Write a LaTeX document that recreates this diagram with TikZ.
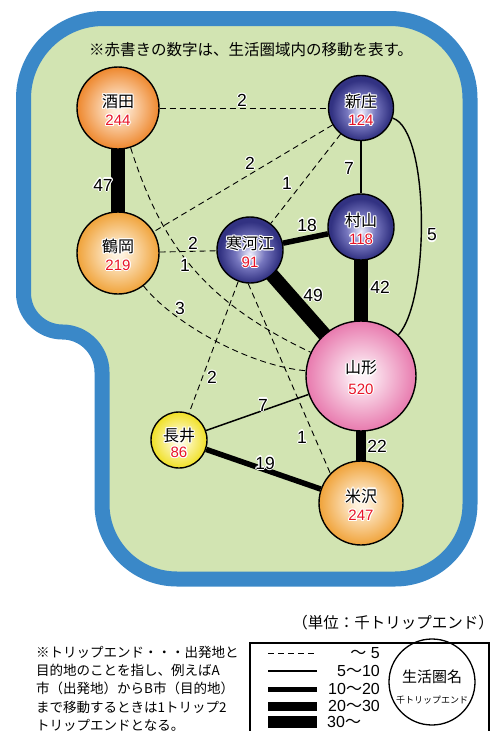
\documentclass[tikz,border=0pt]{standalone}
\usepackage{fontspec}
\setmainfont{Liberation Sans}
\newfontfamily\jp{Noto Sans CJK JP}
\definecolor{frameblue}{RGB}{58,136,200}
\definecolor{bggreen}{RGB}{210,228,178}
\definecolor{numred}{RGB}{232,20,40}
\definecolor{orIn}{RGB}{255,238,220}
\definecolor{orOut}{RGB}{238,136,46}
\definecolor{otIn}{RGB}{255,242,222}
\definecolor{otOut}{RGB}{240,163,58}
\definecolor{blIn}{RGB}{238,238,252}
\definecolor{blMid}{RGB}{118,118,190}
\definecolor{blOut}{RGB}{50,50,130}
\definecolor{pkIn}{RGB}{253,240,246}
\definecolor{pkOut}{RGB}{232,122,174}
\definecolor{ylIn}{RGB}{255,252,228}
\definecolor{ylOut}{RGB}{240,224,36}
\pgfdeclareradialshading{orangeS}{\pgfpointorigin}{color(0bp)=(orIn); color(3bp)=(orIn); color(25bp)=(orOut); color(50bp)=(orOut)}
\pgfdeclareradialshading{otherS}{\pgfpointorigin}{color(0bp)=(otIn); color(3bp)=(otIn); color(25bp)=(otOut); color(50bp)=(otOut)}
\pgfdeclareradialshading{blueS}{\pgfpoint{0bp}{-3bp}}{color(0bp)=(blIn); color(11bp)=(blMid); color(23bp)=(blOut); color(50bp)=(blOut)}
\pgfdeclareradialshading{pinkS}{\pgfpointorigin}{color(0bp)=(pkIn); color(3bp)=(pkIn); color(25bp)=(pkOut); color(50bp)=(pkOut)}
\pgfdeclareradialshading{yellowS}{\pgfpointorigin}{color(0bp)=(ylIn); color(3bp)=(ylIn); color(25bp)=(ylOut); color(50bp)=(ylOut)}
\newcommand\halotxt[2][black]{{\setbox0\hbox{#2}%
\rlap{\color{white}\kern1.1pt\copy0}%
\rlap{\color{white}\kern-1.1pt\copy0}%
\rlap{\color{white}\raise1.1pt\copy0}%
\rlap{\color{white}\lower1.1pt\copy0}%
\rlap{\color{white}\kern.8pt\raise.8pt\copy0}%
\rlap{\color{white}\kern-.8pt\raise.8pt\copy0}%
\rlap{\color{white}\kern.8pt\lower.8pt\copy0}%
\rlap{\color{white}\kern-.8pt\lower.8pt\copy0}%
{\color{#1}\box0}}}
\pgfdeclarelayer{framelayer}
\pgfdeclarelayer{edgelayer}
\pgfsetlayers{framelayer,edgelayer,main}
\tikzset{
 city/.style={circle, draw=black, line width=1.4pt, inner sep=0pt},
 cname/.style={font={\jp\fontsize{16}{16}\selectfont}, inner sep=0pt},
 cnum/.style={font={\fontsize{15}{15}\selectfont}, inner sep=0pt},
 elbl/.style={font={\fontsize{17.5}{17.5}\selectfont}, inner sep=0pt},
 dashedge/.style={line width=0.9pt, dash pattern=on 6pt off 4pt},
 thinedge/.style={line width=1.5pt},
 wten/.style={line width=5.5pt},
 wtwenty/.style={line width=10pt, shorten <=-2pt, shorten >=-2pt},
 wthirty/.style={line width=14pt, shorten <=-3pt, shorten >=-3pt},
 jptext/.style={font={\jp\fontsize{13.5}{13.5}\selectfont}, inner sep=0pt, anchor=west},
 lgnum/.style={font={\fontsize{16}{16}\selectfont}, inner sep=0pt},
}
\begin{document}
\begin{tikzpicture}[x=1pt,y=-1pt]
\useasboundingbox (0,0) rectangle (502,731);
\begin{pgfonlayer}{framelayer}
\draw[line width=15pt, draw=frameblue, fill=bggreen]
 (23.5,293) -- (23.5,98.5) .. controls (23.5,54.3) and (59.3,18.5) .. (103.5,18.5)
 -- (390,18.5) .. controls (434.2,18.5) and (470,54.3) .. (470,98.5)
 -- (470,504) .. controls (470,545.4) and (436.4,579) .. (395,579)
 -- (177,579) .. controls (135.6,579) and (102,545.4) .. (102,504)
 -- (102,372) .. controls (102,350.2) and (84.3,332) .. (62.5,332)
 .. controls (41,332) and (23.5,314.5) .. (23.5,293) -- cycle;
\end{pgfonlayer}
% cities
\node[city, minimum size=82pt, shading=orangeS] (sakata) at (118,108) {};
\node[city, minimum size=65pt, shading=blueS] (shinjo) at (361,108) {};
\node[city, minimum size=66pt, shading=blueS] (murayama) at (361,227) {};
\node[city, minimum size=66pt, shading=blueS] (sagae) at (250,250) {};
\node[city, minimum size=82pt, shading=otherS] (tsuruoka) at (118,253) {};
\node[city, minimum size=110pt, shading=pinkS] (yamagata) at (361,376) {};
\node[city, minimum size=56pt, shading=yellowS] (nagai) at (179,440) {};
\node[city, minimum size=84pt, shading=otherS] (yonezawa) at (361,503) {};
% edges
\begin{pgfonlayer}{edgelayer}
\draw[wthirty] (sakata) -- (tsuruoka);
\draw[dashedge] (sakata) -- (shinjo);
\draw[dashedge] (sakata) .. controls (160,240) and (200,300) .. (yamagata);
\draw[dashedge] (shinjo) -- (tsuruoka);
\draw[dashedge] (shinjo) -- (sagae);
\draw[thinedge] (shinjo) -- (murayama);
\draw[line width=1.4pt] (shinjo) .. controls (430,130) and (430,300) .. (yamagata);
\draw[wten] (sagae) -- (murayama);
\draw[wthirty] (sagae) -- (yamagata);
\draw[wthirty] (murayama) -- (yamagata);
\draw[dashedge] (tsuruoka) -- (sagae);
\draw[dashedge] (tsuruoka) .. controls (170,320) and (245,365) .. (yamagata);
\draw[dashedge] (sagae) -- (nagai);
\draw[dashedge] (sagae.267) -- (yonezawa.136);
\draw[thinedge] (nagai) -- (yamagata);
\draw[wten] (nagai) -- (yonezawa);
\draw[wtwenty] (yamagata) -- (yonezawa);
\end{pgfonlayer}
% city labels
\node[cname] (sakata-n) at ([yshift=6.5pt]sakata.center) {\halotxt{酒田}};
\node[cnum] (sakata-v) at ([yshift=-12pt]sakata.center) {\halotxt[numred]{244}};
\node[cname] (shinjo-n) at ([yshift=6.5pt]shinjo.center) {\halotxt{新庄}};
\node[cnum] (shinjo-v) at ([yshift=-12pt]shinjo.center) {\halotxt[numred]{124}};
\node[cname] (murayama-n) at ([yshift=6.5pt]murayama.center) {\halotxt{村山}};
\node[cnum] (murayama-v) at ([yshift=-12pt]murayama.center) {\halotxt[numred]{118}};
\node[cname] (sagae-n) at ([yshift=6.5pt]sagae.center) {\halotxt{寒河江}};
\node[cnum] (sagae-v) at ([yshift=-12pt]sagae.center) {\halotxt[numred]{91}};
\node[cname] (tsuruoka-n) at ([yshift=6.5pt]tsuruoka.center) {\halotxt{鶴岡}};
\node[cnum] (tsuruoka-v) at ([yshift=-12pt]tsuruoka.center) {\halotxt[numred]{219}};
\node[cname] (yamagata-n) at ([yshift=8pt]yamagata.center) {\halotxt{山形}};
\node[cnum] (yamagata-v) at ([yshift=-13pt]yamagata.center) {\halotxt[numred]{520}};
\node[cname] (nagai-n) at ([yshift=4.5pt]nagai.center) {\halotxt{長井}};
\node[cnum] (nagai-v) at ([yshift=-12.5pt]nagai.center) {\halotxt[numred]{86}};
\node[cname] (yonezawa-n) at ([yshift=7pt]yonezawa.center) {\halotxt{米沢}};
\node[cnum] (yonezawa-v) at ([yshift=-12pt]yonezawa.center) {\halotxt[numred]{247}};
% edge labels
\node[elbl] (e1) at (242,100) {\halotxt{2}};
\node[elbl] (e2) at (103,185) {\halotxt{47}};
\node[elbl] (e3) at (250,163) {\halotxt{2}};
\node[elbl] (e4) at (287,183) {\halotxt{1}};
\node[elbl] (e5) at (349,168) {\halotxt{7}};
\node[elbl] (e6) at (307,225) {\halotxt{18}};
\node[elbl] (e7) at (432,235) {\halotxt{5}};
\node[elbl] (e8) at (193,243) {\halotxt{2}};
\node[elbl] (e9) at (185,265) {\halotxt{1}};
\node[elbl] (e10) at (313,295) {\halotxt{49}};
\node[elbl] (e11) at (380,287) {\halotxt{42}};
\node[elbl] (e12) at (180,308) {\halotxt{3}};
\node[elbl] (e13) at (212,377) {\halotxt{2}};
\node[elbl] (e14) at (263,405) {\halotxt{7}};
\node[elbl] (e15) at (302,437) {\halotxt{1}};
\node[elbl] (e16) at (377,446) {\halotxt{22}};
\node[elbl] (e17) at (265,463) {\halotxt{19}};
% top note
\node[font={\jp\fontsize{15.5}{15.5}\selectfont}, inner sep=0pt] (note) at (251,50) {※赤書きの数字は、生活圏域内の移動を表す。};
% legend
\node[font={\jp\fontsize{15.5}{15.5}\selectfont}, inner sep=0pt] (unit) at (393,623) {（単位：千トリップエンド）};
\draw[line width=2pt] (250,740) -- (250,643) -- (489,643) -- (489,740);
\coordinate (la1) at (268,653); \coordinate (lb1) at (317,653);
\coordinate (la2) at (268,671); \coordinate (lb2) at (317,671);
\coordinate (la3) at (268,689); \coordinate (lb3) at (317,689);
\coordinate (la4) at (268,706); \coordinate (lb4) at (317,706);
\coordinate (la5) at (268,722); \coordinate (lb5) at (317,722);
\draw[line width=1pt, dash pattern=on 5.5pt off 4.5pt] (la1) -- (lb1);
\draw[line width=1.5pt] (la2) -- (lb2);
\draw[line width=5pt] (la3) -- (lb3);
\draw[line width=9pt] (la4) -- (lb4);
\draw[line width=11.5pt] (la5) -- (lb5);
\node[lgnum, anchor=east] (lt1) at (380,653) {{\jp ～}\ 5};
\node[lgnum, anchor=east] (lt2) at (380,671) {5{\jp ～}10};
\node[lgnum, anchor=east] (lt3) at (380,689) {10{\jp ～}20};
\node[lgnum, anchor=east] (lt4) at (380,706) {20{\jp ～}30};
\node[lgnum, anchor=west] (lt5) at (327,722) {30{\jp ～}};
\node[circle, draw=black, line width=1.3pt, minimum size=86pt, inner sep=0pt] (lgc) at (432,682) {};
\node[font={\jp\fontsize{15}{15}\selectfont}, inner sep=0pt] (lgt1) at (432,677) {生活圏名};
\node[font={\jp\fontsize{9}{9}\selectfont}, inner sep=0pt] (lgt2) at (432,700) {千トリップエンド};
% explanation
\node[jptext] (p1) at (36,652) {※トリップエンド・・・出発地と};
\node[jptext] (p2) at (36,670) {目的地のことを指し、例えばA};
\node[jptext] (p3) at (36,688) {市（出発地）からB市（目的地）};
\node[jptext] (p4) at (36,707) {まで移動するときは1トリップ2};
\node[jptext] (p5) at (36,725) {トリップエンドとなる。};
\end{tikzpicture}
\end{document}
